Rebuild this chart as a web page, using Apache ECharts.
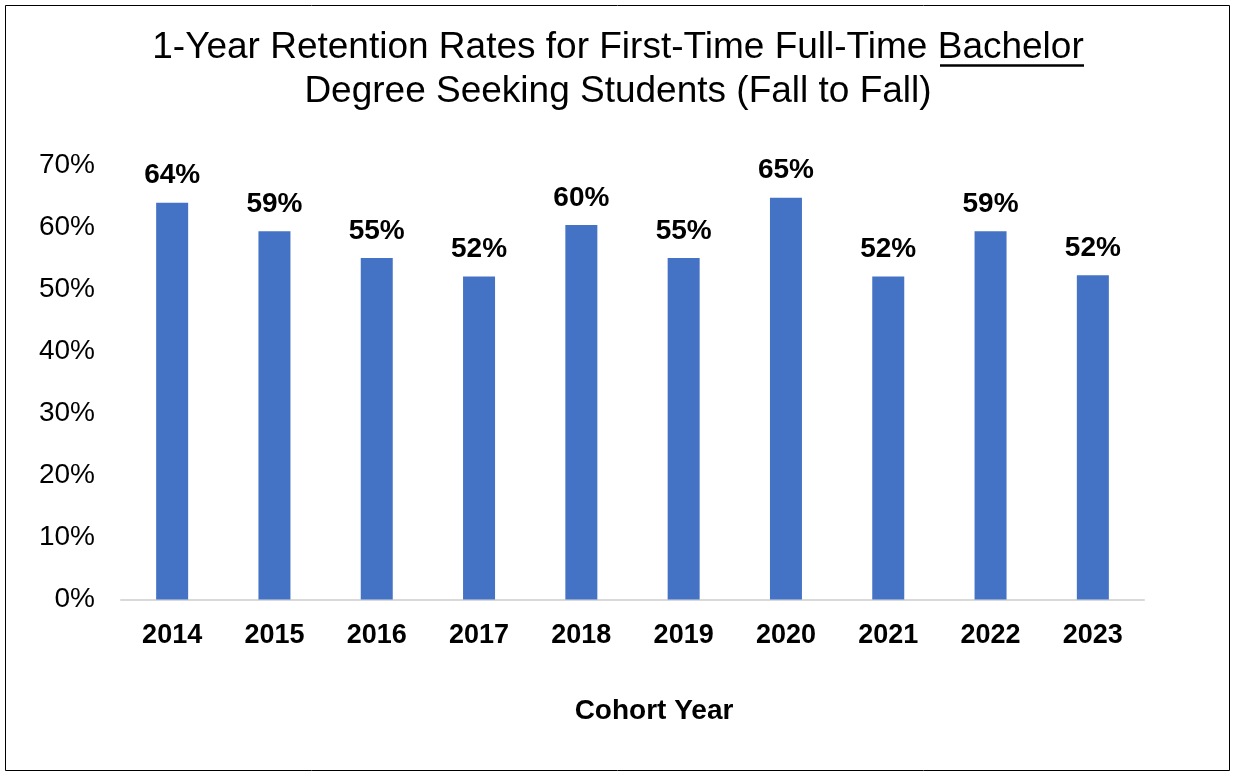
<!DOCTYPE html>
<html><head><meta charset="utf-8">
<script src="https://cdn.jsdelivr.net/npm/echarts@6/dist/echarts.min.js"></script>
<style>html,body{margin:0;padding:0;background:#fff}#c{width:1236px;height:774px}</style>
</head><body><div id="c"></div>
<script>
const categories = ['2014','2015','2016','2017','2018','2019','2020','2021','2022','2023'];
const retention = [64.0, 59.4, 55.1, 52.1, 60.4, 55.1, 64.8, 52.1, 59.4, 52.3];
const yTicks = [0, 10, 20, 30, 40, 50, 60, 70];
const titleLine1 = '1-Year Retention Rates for First-Time Full-Time Bachelor';
const titleLine2 = 'Degree Seeking Students (Fall to Fall)';
const xName = 'Cohort Year';

const FONT = '"Liberation Sans", Arial, sans-serif';
const chart = echarts.init(document.getElementById('c'), null, {renderer:'canvas'});
chart.setOption({
  backgroundColor: '#fff',
  animation: false,
  title: {
    left: 'center', top: 21,
    text: titleLine1 + '\n' + titleLine2,
    textStyle: {fontFamily: FONT, fontSize: 37, fontWeight: 'normal', color: '#000', lineHeight: 44}
  },
  grid: {left: 121, right: 92, top: 165.5, bottom: 174.5, containLabel: false},
  xAxis: {
    type: 'category', data: categories,
    name: xName, nameLocation: 'middle', nameGap: 98,
    nameTextStyle: {fontFamily: FONT, fontSize: 28, fontWeight: 'bold', color: '#000', padding: [0,0,0,43]},
    axisLine: {lineStyle: {color: '#d9d9d9', width: 2}},
    axisTick: {show: false},
    axisLabel: {fontFamily: FONT, fontSize: 27, fontWeight: 'bold', color: '#000', margin: 23}
  },
  yAxis: {
    type: 'value', min: yTicks[0], max: yTicks[yTicks.length-1], interval: 10,
    axisLine: {show: false}, axisTick: {show: false}, splitLine: {show: false},
    axisLabel: {fontFamily: FONT, fontSize: 28, color: '#000', margin: 26, formatter: v => v + '%'}
  },
  series: [{
    type: 'bar', data: retention, barWidth: 32,
    itemStyle: {color: '#4472C4'},
    label: {show: true, position: 'top', distance: 13, fontFamily: FONT, fontSize: 28, fontWeight: 'bold', color: '#000',
      formatter: p => Math.round(p.value) + '%'}
  }],
  graphic: [
    {type: 'rect', shape: {x: 5.5, y: 5.5, width: 1224, height: 765}, style: {fill: 'none', stroke: '#000', lineWidth: 1}, silent: true},
    {type: 'line', shape: {x1: 940, y1: 65.5, x2: 1084, y2: 65.5}, style: {stroke: '#000', lineWidth: 2.5}, silent: true}
  ]
});
</script></body></html>
